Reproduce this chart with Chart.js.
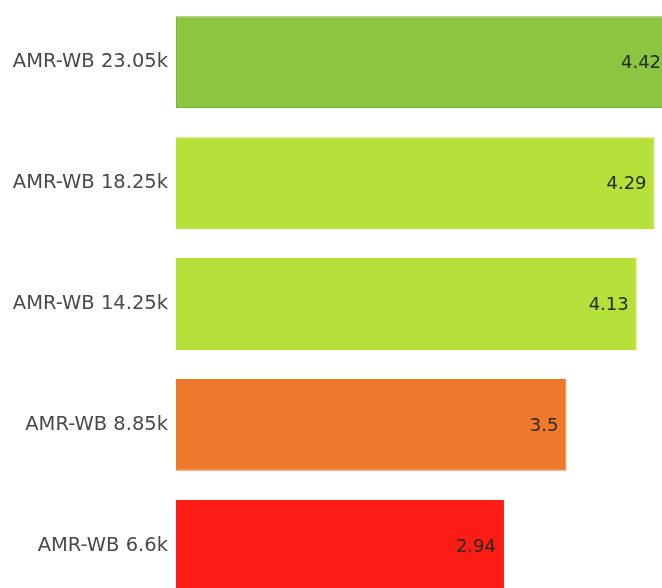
<!DOCTYPE html>
<html>
<head>
<meta charset="utf-8">
<script src="https://cdn.jsdelivr.net/npm/chart.js@4"></script>
<style>
  html, body { margin: 0; padding: 0; background: #fff; overflow: hidden; }
  #wrap { position: absolute; left: 0; top: -18px; width: 678px; height: 644px; }
</style>
</head>
<body>
<div id="wrap"><canvas id="mosChart"></canvas></div>
<script>
const codecs = ['AMR-WB 23.05k', 'AMR-WB 18.25k', 'AMR-WB 14.25k', 'AMR-WB 8.85k', 'AMR-WB 6.6k'];
const mosScores = [4.42, 4.29, 4.13, 3.5, 2.94];
const barColors = ['#8cc540', '#b6e13a', '#b6e13a', '#ef792b', '#fd1c15'];
const borderColors = ['#7eb53a', '#b6e13a', '#b6e13a', '#ef792b', '#fd1c15'];

// draws the score near the end of each bar
const valueLabels = {
    id: 'valueLabels',
    afterDatasetsDraw(chart) {
        const ctx = chart.ctx;
        const meta = chart.getDatasetMeta(0);
        ctx.save();
        ctx.font = '18px "DejaVu Sans"';
        ctx.fillStyle = '#262b1c';
        ctx.textAlign = 'right';
        ctx.textBaseline = 'middle';
        meta.data.forEach((bar, i) => {
            ctx.fillText(String(mosScores[i]), bar.x - 8, bar.y + 1);
        });
        ctx.restore();
    }
};

new Chart(document.getElementById('mosChart'), {
    type: 'bar',
    data: {
        labels: codecs,
        datasets: [{
            data: mosScores,
            backgroundColor: barColors,
            borderColor: borderColors,
            borderWidth: 1,
            borderSkipped: false,
            categoryPercentage: 1,
            barPercentage: 0.76
        }]
    },
    options: {
        indexAxis: 'y',
        responsive: true,
        maintainAspectRatio: false,
        animation: false,
        plugins: {
            legend: { display: false },
            tooltip: { enabled: false }
        },
        scales: {
            x: {
                display: false,
                min: 0,
                max: 4.5
            },
            y: {
                grid: { display: false, drawTicks: false },
                border: { display: false },
                afterFit: scale => { scale.width = 176; },
                ticks: {
                    color: '#4a4a4a',
                    padding: 8,
                    font: { size: 19.5, family: 'DejaVu Sans' }
                }
            }
        }
    },
    plugins: [valueLabels]
});
</script>
</body>
</html>
